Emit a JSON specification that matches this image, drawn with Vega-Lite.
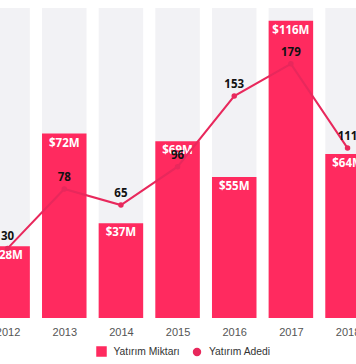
{
  "$schema": "https://vega.github.io/schema/vega-lite/v6.json",
  "autosize": "none",
  "width": 356,
  "height": 310,
  "padding": {"left": 0, "top": 8, "right": 0, "bottom": 46},
  "background": "white",
  "data": {
    "values": [
      {"yil": 2012, "miktar": 28, "adet": 30, "etiket": "$28M"},
      {"yil": 2013, "miktar": 72, "adet": 78, "etiket": "$72M"},
      {"yil": 2014, "miktar": 37, "adet": 65, "etiket": "$37M"},
      {"yil": 2015, "miktar": 69, "adet": 96, "etiket": "$69M"},
      {"yil": 2016, "miktar": 55, "adet": 153, "etiket": "$55M"},
      {"yil": 2017, "miktar": 116, "adet": 179, "etiket": "$116M"},
      {"yil": 2018, "miktar": 64, "adet": 111, "etiket": "$64M"}
    ]
  },
  "encoding": {
    "x": {
      "field": "yil",
      "type": "quantitative",
      "scale": {"domain": [2011.954, 2018.061], "nice": false, "zero": false},
      "axis": {
        "values": [2012, 2013, 2014, 2015, 2016, 2017, 2018],
        "format": "d",
        "title": null,
        "grid": false,
        "domain": false,
        "ticks": false,
        "labelPadding": 8,
        "labelFont": "Liberation Sans",
        "labelFontSize": 11,
        "labelColor": "#555555",
        "labelFlush": false,
        "labelOverlap": false
      }
    }
  },
  "layer": [
    {
      "layer": [
        {
          "mark": {"type": "bar", "width": 44.5, "color": "#f2f2f5", "clip": true},
          "encoding": {"y": {"datum": 121, "type": "quantitative"}}
        },
        {
          "mark": {"type": "bar", "width": 44.5, "clip": true},
          "encoding": {
            "y": {"field": "miktar", "type": "quantitative"},
            "color": {
              "datum": "Yatırım Miktarı",
              "scale": {"domain": ["Yatırım Miktarı", "Yatırım Adedi"], "range": ["#ff2a5f", "#e8285c"]},
              "legend": {
                "orient": "none",
                "legendX": 96,
                "legendY": 338,
                "direction": "horizontal",
                "title": null,
                "labelFont": "Liberation Sans",
                "labelFontSize": 10.3,
                "labelColor": "#333333",
                "labelOffset": 6.5,
                "symbolSize": 81,
                "columnPadding": 10.5,
                "encode": {
                  "symbols": {
                    "update": {
                      "shape": {"signal": "datum.value === 'Yatırım Adedi' ? 'circle' : 'square'"},
                      "size": {"signal": "datum.value === 'Yatırım Adedi' ? 48 : 81"},
                      "fillOpacity": {"value": 1}
                    }
                  }
                }
              }
            }
          }
        },
        {
          "mark": {"type": "text", "baseline": "middle", "dy": 10, "color": "white", "font": "Open Sans", "fontWeight": "bold", "fontSize": 11.5},
          "encoding": {
            "y": {"field": "miktar", "type": "quantitative"},
            "text": {"field": "etiket"}
          }
        }
      ],
      "encoding": {
        "y": {"scale": {"domain": [0, 121], "nice": false}, "axis": null}
      }
    },
    {
      "layer": [
        {
          "mark": {"type": "line", "strokeWidth": 2, "point": {"filled": true, "size": 30}},
          "encoding": {
            "y": {"field": "adet", "type": "quantitative"},
            "color": {"datum": "Yatırım Adedi"}
          }
        },
        {
          "mark": {"type": "text", "baseline": "middle", "dy": -11, "color": "#111111", "font": "Open Sans", "fontWeight": "bold", "fontSize": 11.5},
          "encoding": {
            "y": {"field": "adet", "type": "quantitative"},
            "text": {"field": "adet"}
          }
        }
      ],
      "encoding": {
        "y": {"scale": {"domain": [-26.2, 224.1], "nice": false, "zero": false}, "axis": null}
      }
    }
  ],
  "resolve": {"scale": {"y": "independent"}},
  "config": {
    "view": {"stroke": null}
  }
}
